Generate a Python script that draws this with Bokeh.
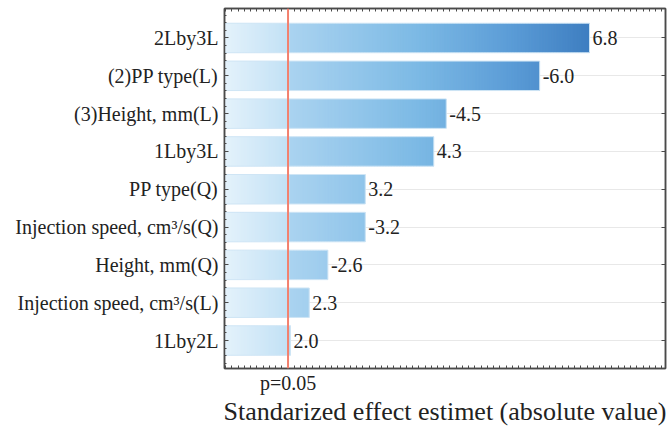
import numpy as np
from bokeh.plotting import figure
from bokeh.models import Range1d, Span, LinearAxis, FixedTicker
from bokeh.core.properties import value
from bokeh.embed import file_html
from bokeh.resources import INLINE

# ---- data ----
names = ["2Lby3L", "(2)PP type(L)", "(3)Height, mm(L)", "1Lby3L", "PP type(Q)",
         "Injection speed, cm³/s(Q)", "Height, mm(Q)", "Injection speed, cm³/s(L)", "1Lby2L"]
effects = [6.8, -6.0, -4.5, 4.3, 3.2, -3.2, -2.6, 2.3, 2.0]
p_crit = 1.96
p_label = "p=0.05"
x_title = "Standarized effect estimet (absolute value)"

# ---- style ----
x_start, x_end = 0.94, 8.02
FONT = "Liberation Serif"
stop_x = [0.94, 1.96, 2.0, 4.0, 5.5, 6.8, 8.0]
stop_rgb = np.array([[228, 242, 251], [194, 225, 245], [170, 211, 240], [125, 186, 229],
                     [92, 157, 215], [62, 126, 193], [50, 110, 180]], dtype=float)

def grad(x):
    return "#%02x%02x%02x" % tuple(int(round(np.interp(x, stop_x, stop_rgb[:, k]))) for k in range(3))

n = len(names)
pos = list(range(n))                    # row index, 0 = top
lengths = [abs(e) for e in effects]
labels = ["%.1f" % e for e in effects]

ys, lefts, rights, cols = [], [], [], []
step = 0.025
for yi, L in zip(pos, lengths):
    edges = np.append(np.arange(x_start, L, step), L)
    for a, b in zip(edges[:-1], edges[1:]):
        ys.append(yi)
        lefts.append(a)
        rights.append(min(b + step * 0.6, L))
        cols.append(grad(0.5 * (a + b)))

p = figure(width=670, height=428, output_backend="svg", toolbar_location=None,
           y_range=Range1d(n - 1 + 0.74, -0.78),
           x_range=Range1d(x_start, x_end),
           min_border_top=8, min_border_right=5, min_border_bottom=60, min_border_left=224)

p.hbar(y=ys, left=lefts, right=rights, height=0.78, fill_color=cols, line_color=None)
p.hbar(y=pos, left=x_start, right=lengths, height=0.78, fill_color=None,
       line_color="#cfe5f5", line_width=1)

p.text(x=lengths, y=pos, text=labels, x_offset=3, text_baseline="middle",
       text_font=value(FONT), text_font_size="20px", text_color="#222222")

p.add_layout(Span(location=p_crit, dimension="height", line_color="#f3806e", line_width=2))

minor = list(np.arange(p_crit - 1.0, x_end, 0.1))
yminor = list(np.arange(-0.8, n + 0.8, 0.2))
AX = "#4a4a4a"

xa = p.xaxis[0]
xa.ticker = FixedTicker(ticks=[p_crit], minor_ticks=minor)
xa.major_label_overrides = {p_crit: p_label}
xa.major_label_text_font = FONT
xa.major_label_text_font_size = "20px"
xa.major_label_text_color = "#222222"
xa.major_label_standoff = 3
xa.axis_label = x_title
xa.axis_label_text_font = FONT
xa.axis_label_text_font_size = "26px"
xa.axis_label_text_font_style = "normal"
xa.axis_label_text_color = "#222222"
xa.axis_label_standoff = 0

ya = p.yaxis[0]
ya.ticker = FixedTicker(ticks=pos, minor_ticks=yminor)
ya.major_label_overrides = {i: nm for i, nm in zip(pos, names)}
ya.major_label_text_font = FONT
ya.major_label_text_font_size = "20px"
ya.major_label_text_color = "#222222"
ya.major_label_standoff = 6

top = LinearAxis(ticker=FixedTicker(ticks=[], minor_ticks=minor))
p.add_layout(top, "above")
right = LinearAxis(ticker=FixedTicker(ticks=[], minor_ticks=pos))
p.add_layout(right, "right")

for ax in [xa, top, right, ya]:
    ax.axis_line_color = AX
    ax.axis_line_width = 1.5
    ax.major_tick_line_color = AX
    ax.minor_tick_line_color = AX
    ax.major_tick_in = 4
    ax.major_tick_out = 0
    ax.minor_tick_in = 3
    ax.minor_tick_out = 0
right.minor_tick_in = 4
ya.minor_tick_in = 2

p.xgrid.visible = False
p.ygrid.ticker = FixedTicker(ticks=pos)
p.ygrid.grid_line_color = "#e8e8e8"
p.outline_line_color = AX
p.outline_line_width = 1.5

open("out.html", "w").write(file_html(p, INLINE))
